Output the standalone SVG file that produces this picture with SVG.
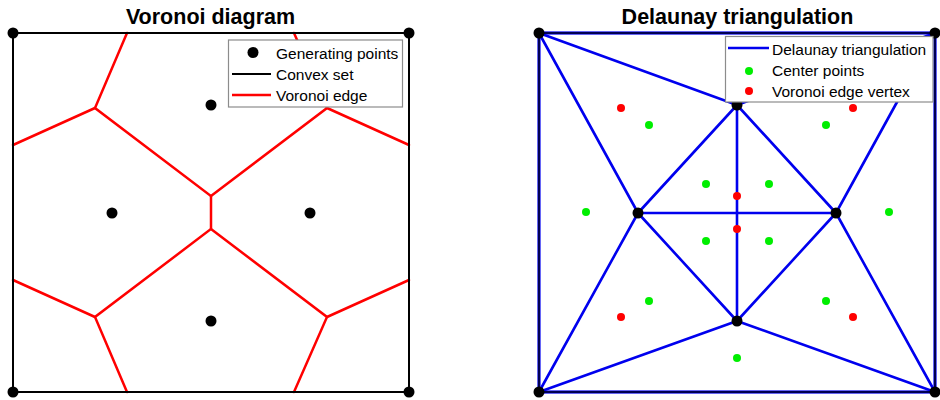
<svg xmlns="http://www.w3.org/2000/svg" width="940" height="400" viewBox="0 0 940 400">
<style>
.title{font-family:"Liberation Sans",Arial,sans-serif;font-weight:bold;font-size:21.5px;text-anchor:middle;fill:#000}
.leg{font-family:"Liberation Sans",Arial,sans-serif;font-size:15.5px;fill:#000}
.legbox{fill:#fff;stroke:#8c8c8c;stroke-width:1.2}
.box{fill:none;stroke:#000;stroke-width:2}
.vor{stroke:#ff0000;stroke-width:2.5;fill:none;stroke-linecap:round}
.del{stroke:#0000ee;stroke-width:2.6;fill:none;stroke-linecap:round}
.pt{fill:#000}
.g{fill:#00ee00}
.r{fill:#ff0000}
</style>
<rect width="940" height="400" fill="#fff"/>
<text class="title" x="210.5" y="23.5">Voronoi diagram</text>
<text class="title" x="737.5" y="23.5">Delaunay triangulation</text>

<!-- Left panel -->
<g id="connectors-left">
<g class="vor">
<polyline points="127,33 95,108 211,196 211,229 95,317 127,392"/>
<line x1="95" y1="108" x2="13" y2="145"/>
<line x1="95" y1="317" x2="13" y2="280"/>
<polyline points="294,33 327,108 211,196"/>
<polyline points="211,229 327,317 294,392"/>
<line x1="327" y1="108" x2="409" y2="145"/>
<line x1="327" y1="317" x2="409" y2="280"/>
</g>
<rect class="box" x="13" y="33" width="396" height="359"/>
</g>
<g id="points-left">
<circle class="pt" cx="13" cy="33" r="5.5"/>
<circle class="pt" cx="409" cy="33" r="5.5"/>
<circle class="pt" cx="13" cy="392" r="5.5"/>
<circle class="pt" cx="409" cy="392" r="5.5"/>
<circle class="pt" cx="211" cy="105" r="5.5"/>
<circle class="pt" cx="112" cy="213" r="5.5"/>
<circle class="pt" cx="310" cy="213" r="5.5"/>
<circle class="pt" cx="211" cy="321" r="5.5"/>
</g>
<g id="legend-left">
<rect class="legbox" x="228.5" y="40" width="174" height="67"/>
<circle class="pt" cx="253" cy="52.5" r="5.5"/>
<text class="leg" x="276" y="58.5">Generating points</text>
<line x1="232" y1="74" x2="271" y2="74" stroke="#000" stroke-width="2"/>
<text class="leg" x="276" y="79.5">Convex set</text>
<line x1="232" y1="95" x2="271" y2="95" stroke="#ff0000" stroke-width="2.5"/>
<text class="leg" x="276" y="100.5">Voronoi edge</text>
</g>

<!-- Right panel -->
<g id="connectors-right">
<g class="del">
<line x1="539" y1="33" x2="737" y2="105"/>
<line x1="935" y1="33" x2="737" y2="105"/>
<line x1="539" y1="33" x2="638" y2="213"/>
<line x1="935" y1="33" x2="836" y2="213"/>
<line x1="737" y1="105" x2="638" y2="213"/>
<line x1="737" y1="105" x2="836" y2="213"/>
<line x1="737" y1="105" x2="737" y2="321"/>
<line x1="638" y1="213" x2="836" y2="213"/>
<line x1="638" y1="213" x2="737" y2="321"/>
<line x1="836" y1="213" x2="737" y2="321"/>
<line x1="638" y1="213" x2="539" y2="392"/>
<line x1="836" y1="213" x2="935" y2="392"/>
<line x1="737" y1="321" x2="539" y2="392"/>
<line x1="737" y1="321" x2="935" y2="392"/>
<rect x="539" y="33" width="396" height="359" stroke-width="3.2"/>
</g>
<rect x="539" y="33" width="396" height="359" fill="none" stroke="#000" stroke-width="1.3"/>
</g>
<g id="points-right">
<circle class="g" cx="649" cy="125" r="4"/>
<circle class="g" cx="826" cy="125" r="4"/>
<circle class="g" cx="706" cy="184" r="4"/>
<circle class="g" cx="769" cy="184" r="4"/>
<circle class="g" cx="586" cy="212" r="4"/>
<circle class="g" cx="889" cy="212" r="4"/>
<circle class="g" cx="706" cy="241" r="4"/>
<circle class="g" cx="769" cy="241" r="4"/>
<circle class="g" cx="649" cy="301" r="4"/>
<circle class="g" cx="826" cy="301" r="4"/>
<circle class="g" cx="737" cy="358" r="4"/>
<circle class="r" cx="621" cy="108" r="4"/>
<circle class="r" cx="853" cy="108" r="4"/>
<circle class="r" cx="737" cy="196" r="4"/>
<circle class="r" cx="737" cy="229" r="4"/>
<circle class="r" cx="621" cy="317" r="4"/>
<circle class="r" cx="853" cy="317" r="4"/>
<circle class="pt" cx="539" cy="33" r="5.5"/>
<circle class="pt" cx="935" cy="33" r="5.5"/>
<circle class="pt" cx="539" cy="392" r="5.5"/>
<circle class="pt" cx="935" cy="392" r="5.5"/>
<circle class="pt" cx="737" cy="105" r="5.5"/>
<circle class="pt" cx="638" cy="213" r="5.5"/>
<circle class="pt" cx="836" cy="213" r="5.5"/>
<circle class="pt" cx="737" cy="321" r="5.5"/>
</g>
<g id="legend-right">
<rect class="legbox" x="725.5" y="36.5" width="207.5" height="65.5"/>
<line x1="728" y1="48" x2="769" y2="48" stroke="#0000ee" stroke-width="2.6"/>
<text class="leg" x="772" y="54.5">Delaunay triangulation</text>
<circle class="g" cx="749" cy="71" r="4"/>
<text class="leg" x="772" y="76">Center points</text>
<circle class="r" cx="749" cy="91" r="4"/>
<text class="leg" x="772" y="96.5">Voronoi edge vertex</text>
</g>
</svg>
